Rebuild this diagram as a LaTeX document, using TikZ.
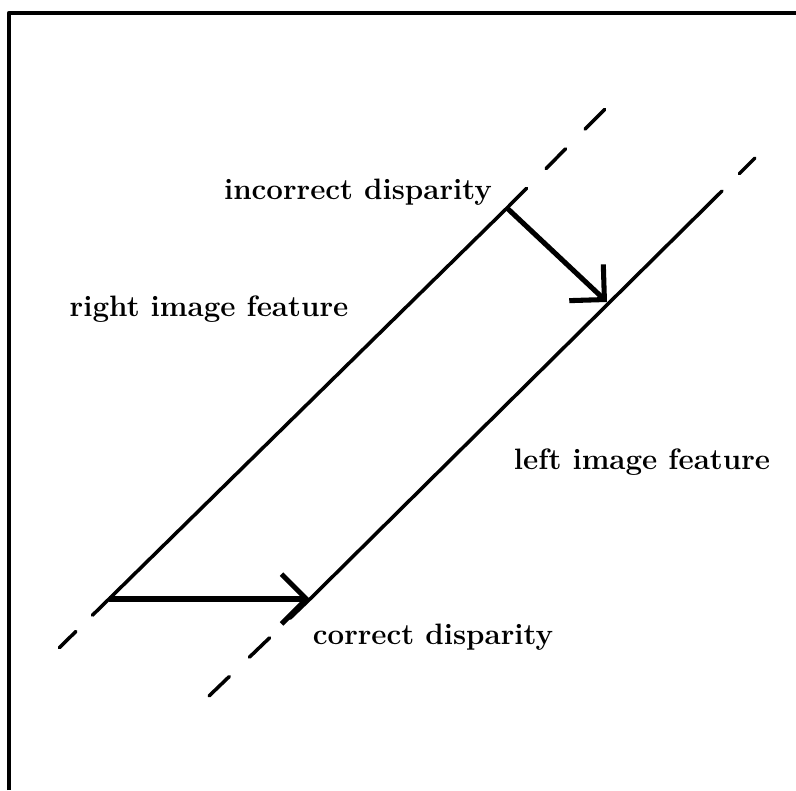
\documentclass[tikz,border=0pt]{standalone}
\usepackage{tikz}
\usetikzlibrary{arrows.meta}

\begin{document}
\begin{tikzpicture}[
        % one unit is one pixel of the 796 x 790 sheet, y running down
        x=0.025cm, y=-0.025cm,
        % the two feature lines
        feature/.style={line width=2.5pt, line cap=round},
        % their dashed continuations
        extension/.style={line width=2.5pt, line cap=round, dash pattern=on #1 off #1},
        % the disparity arrows
        disparity/.style={
            line width=3.6pt,
            -{Straight Barb[angle=90:25pt, line width=3.6pt]}
        },
        featurelabel/.style={
            font=\fontsize{21}{25}\selectfont\bfseries,
            inner sep=0pt
        }
    ]

    \useasboundingbox (0,0) rectangle (796,790);

    % ==========================================
    % FRAME (only top and left edges show)
    % ==========================================
    \draw[line width=3pt, line join=round] (9,790) -- (9,13) -- (796,13);

    % ==========================================
    % FEATURE LINES
    % ==========================================

    % right image feature
    \coordinate (rf-low) at (109,599);
    \coordinate (rf-high) at (507,208);
    \coordinate (rf-lowend) at (59,648);
    \coordinate (rf-highend) at (605,109);

    % left image feature
    \coordinate (lf-low) at (310,599);
    \coordinate (lf-hit) at (607,302);
    \coordinate (lf-high) at (722,191);
    \coordinate (lf-lowend) at (209,696);
    \coordinate (lf-highend) at (755,158);

    \draw[feature] (rf-low) -- (rf-high);
    \draw[feature] (lf-low) -- (lf-high);

    % dashed continuations
    \draw[extension=16.5pt] (rf-low) -- (rf-lowend);
    \draw[extension=19.75pt] (rf-high) -- (rf-highend);
    \draw[extension=19.9pt] (lf-low) -- (lf-lowend);
    \draw[line width=2.5pt, line cap=round, dash pattern=on 15.5pt off 17.5pt, dash phase=15.5pt] (lf-high) -- (lf-highend);

    % ==========================================
    % DISPARITY ARROWS
    % ==========================================
    \draw[disparity] (rf-low) -- (lf-low);
    \draw[disparity] (rf-high) -- (lf-hit);

    % labels
    \node[featurelabel] (incorrect) at (358,192) {incorrect disparity};
    \node[featurelabel] (rightfeat) at (209,309) {right image feature};
    \node[featurelabel] (leftfeat) at (642,462) {left image feature};
    \node[featurelabel] (correct) at (433,637) {correct disparity};

\end{tikzpicture}
\end{document}
